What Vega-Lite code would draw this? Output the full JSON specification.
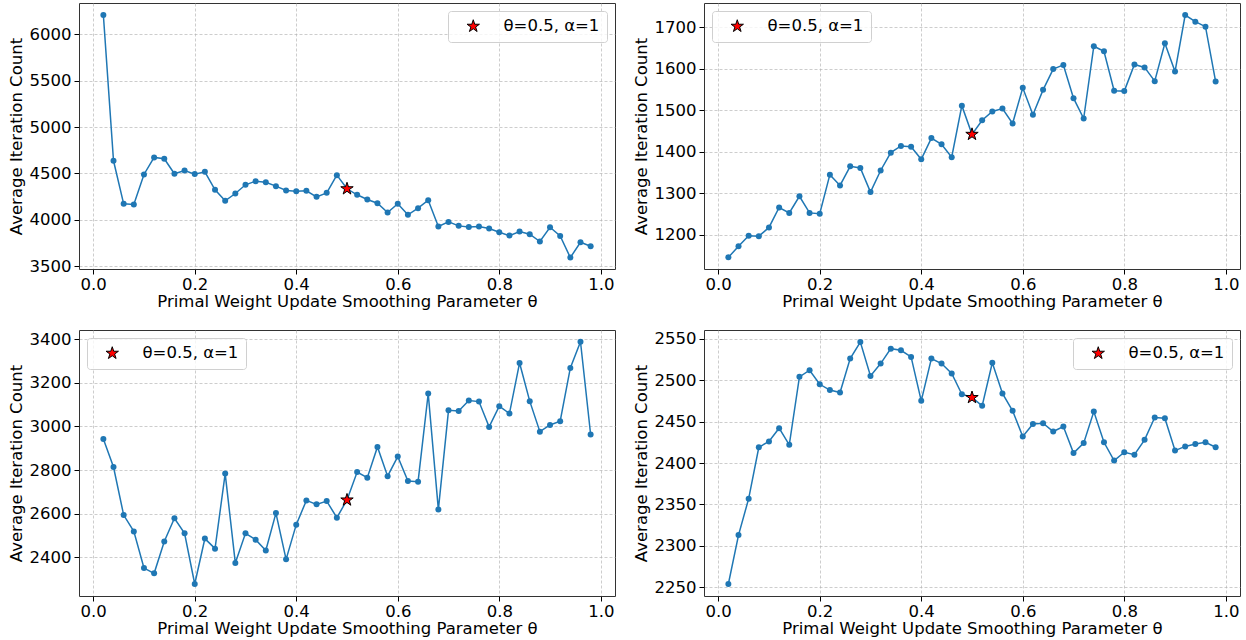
{
  "$schema": "https://vega.github.io/schema/vega-lite/v6.json",
  "background": "white",
  "padding": {"left": 7, "top": 2, "right": 5, "bottom": 5},
  "bounds": "flush",
  "columns": 2,
  "spacing": {"row": 61, "column": 89},
  "datasets": {
    "p1": [
      {"theta":0.02,"count":6208},{"theta":0.04,"count":4637},{"theta":0.06,"count":4173},{"theta":0.08,"count":4165},{"theta":0.10,"count":4489},{"theta":0.12,"count":4673},{"theta":0.14,"count":4659},{"theta":0.16,"count":4497},{"theta":0.18,"count":4532},{"theta":0.20,"count":4493},{"theta":0.22,"count":4518},{"theta":0.24,"count":4324},{"theta":0.26,"count":4205},{"theta":0.28,"count":4284},{"theta":0.30,"count":4378},{"theta":0.32,"count":4417},{"theta":0.34,"count":4406},{"theta":0.36,"count":4363},{"theta":0.38,"count":4317},{"theta":0.40,"count":4309},{"theta":0.42,"count":4313},{"theta":0.44,"count":4248},{"theta":0.46,"count":4291},{"theta":0.48,"count":4482},{"theta":0.50,"count":4335},{"theta":0.52,"count":4270},{"theta":0.54,"count":4219},{"theta":0.56,"count":4179},{"theta":0.58,"count":4079},{"theta":0.60,"count":4173},{"theta":0.62,"count":4054},{"theta":0.64,"count":4126},{"theta":0.66,"count":4212},{"theta":0.68,"count":3928},{"theta":0.70,"count":3978},{"theta":0.72,"count":3935},{"theta":0.74,"count":3924},{"theta":0.76,"count":3928},{"theta":0.78,"count":3906},{"theta":0.80,"count":3866},{"theta":0.82,"count":3830},{"theta":0.84,"count":3874},{"theta":0.86,"count":3845},{"theta":0.88,"count":3766},{"theta":0.90,"count":3920},{"theta":0.92,"count":3827},{"theta":0.94,"count":3593},{"theta":0.96,"count":3758},{"theta":0.98,"count":3715}
    ],
    "p2": [
      {"theta":0.02,"count":1146},{"theta":0.04,"count":1173},{"theta":0.06,"count":1198},{"theta":0.08,"count":1197},{"theta":0.10,"count":1218},{"theta":0.12,"count":1266},{"theta":0.14,"count":1253},{"theta":0.16,"count":1293},{"theta":0.18,"count":1253},{"theta":0.20,"count":1251},{"theta":0.22,"count":1345},{"theta":0.24,"count":1319},{"theta":0.26,"count":1365},{"theta":0.28,"count":1361},{"theta":0.30,"count":1303},{"theta":0.32,"count":1355},{"theta":0.34,"count":1398},{"theta":0.36,"count":1414},{"theta":0.38,"count":1412},{"theta":0.40,"count":1382},{"theta":0.42,"count":1433},{"theta":0.44,"count":1418},{"theta":0.46,"count":1387},{"theta":0.48,"count":1511},{"theta":0.50,"count":1442},{"theta":0.52,"count":1476},{"theta":0.54,"count":1497},{"theta":0.56,"count":1504},{"theta":0.58,"count":1468},{"theta":0.60,"count":1554},{"theta":0.62,"count":1489},{"theta":0.64,"count":1549},{"theta":0.66,"count":1599},{"theta":0.68,"count":1609},{"theta":0.70,"count":1529},{"theta":0.72,"count":1480},{"theta":0.74,"count":1654},{"theta":0.76,"count":1642},{"theta":0.78,"count":1547},{"theta":0.80,"count":1546},{"theta":0.82,"count":1610},{"theta":0.84,"count":1603},{"theta":0.86,"count":1570},{"theta":0.88,"count":1661},{"theta":0.90,"count":1593},{"theta":0.92,"count":1729},{"theta":0.94,"count":1713},{"theta":0.96,"count":1701},{"theta":0.98,"count":1569}
    ],
    "p3": [
      {"theta":0.02,"count":2943},{"theta":0.04,"count":2814},{"theta":0.06,"count":2594},{"theta":0.08,"count":2519},{"theta":0.10,"count":2351},{"theta":0.12,"count":2327},{"theta":0.14,"count":2473},{"theta":0.16,"count":2579},{"theta":0.18,"count":2510},{"theta":0.20,"count":2278},{"theta":0.22,"count":2486},{"theta":0.24,"count":2440},{"theta":0.26,"count":2784},{"theta":0.28,"count":2374},{"theta":0.30,"count":2510},{"theta":0.32,"count":2481},{"theta":0.34,"count":2432},{"theta":0.36,"count":2603},{"theta":0.38,"count":2391},{"theta":0.40,"count":2550},{"theta":0.42,"count":2661},{"theta":0.44,"count":2643},{"theta":0.46,"count":2658},{"theta":0.48,"count":2582},{"theta":0.50,"count":2663},{"theta":0.52,"count":2791},{"theta":0.54,"count":2765},{"theta":0.56,"count":2906},{"theta":0.58,"count":2772},{"theta":0.60,"count":2862},{"theta":0.62,"count":2750},{"theta":0.64,"count":2747},{"theta":0.66,"count":3151},{"theta":0.68,"count":2619},{"theta":0.70,"count":3074},{"theta":0.72,"count":3071},{"theta":0.74,"count":3119},{"theta":0.76,"count":3114},{"theta":0.78,"count":2998},{"theta":0.80,"count":3093},{"theta":0.82,"count":3059},{"theta":0.84,"count":3291},{"theta":0.86,"count":3116},{"theta":0.88,"count":2976},{"theta":0.90,"count":3007},{"theta":0.92,"count":3024},{"theta":0.94,"count":3268},{"theta":0.96,"count":3388},{"theta":0.98,"count":2963}
    ],
    "p4": [
      {"theta":0.02,"count":2254},{"theta":0.04,"count":2313},{"theta":0.06,"count":2357},{"theta":0.08,"count":2419},{"theta":0.10,"count":2426},{"theta":0.12,"count":2442},{"theta":0.14,"count":2422},{"theta":0.16,"count":2504},{"theta":0.18,"count":2512},{"theta":0.20,"count":2495},{"theta":0.22,"count":2488},{"theta":0.24,"count":2485},{"theta":0.26,"count":2526},{"theta":0.28,"count":2546},{"theta":0.30,"count":2505},{"theta":0.32,"count":2520},{"theta":0.34,"count":2538},{"theta":0.36,"count":2536},{"theta":0.38,"count":2528},{"theta":0.40,"count":2475},{"theta":0.42,"count":2526},{"theta":0.44,"count":2520},{"theta":0.46,"count":2508},{"theta":0.48,"count":2483},{"theta":0.50,"count":2479},{"theta":0.52,"count":2469},{"theta":0.54,"count":2521},{"theta":0.56,"count":2484},{"theta":0.58,"count":2463},{"theta":0.60,"count":2432},{"theta":0.62,"count":2447},{"theta":0.64,"count":2448},{"theta":0.66,"count":2438},{"theta":0.68,"count":2444},{"theta":0.70,"count":2412},{"theta":0.72,"count":2424},{"theta":0.74,"count":2462},{"theta":0.76,"count":2425},{"theta":0.78,"count":2403},{"theta":0.80,"count":2413},{"theta":0.82,"count":2410},{"theta":0.84,"count":2428},{"theta":0.86,"count":2455},{"theta":0.88,"count":2454},{"theta":0.90,"count":2415},{"theta":0.92,"count":2420},{"theta":0.94,"count":2423},{"theta":0.96,"count":2425},{"theta":0.98,"count":2419}
    ]
  },
  "concat": [
    {
      "width": 536, "height": 266,
      "data": {"name": "p1"},
      "layer": [
        {"mark": {"type": "line", "color": "#1f77b4", "strokeWidth": 1.5, "point": {"filled": true, "size": 36, "color": "#1f77b4", "opacity": 1}},
         "encoding": {
           "x": {"field": "theta", "type": "quantitative", "scale": {"domain": [-0.028, 1.028], "nice": false, "zero": false}, "axis": {"values": [0, 0.2, 0.4, 0.6, 0.8, 1.0], "format": ".1f", "title": "Primal Weight Update Smoothing Parameter θ"}},
           "y": {"field": "count", "type": "quantitative", "scale": {"domain": [3470, 6338], "nice": false, "zero": false}, "axis": {"values": [3500, 4000, 4500, 5000, 5500, 6000], "format": "d", "title": "Average Iteration Count"}}
         }},
        {"transform": [{"filter": "datum.theta == 0.5"}],
         "mark": {"type": "point", "shape": "M0,-1L0.225,-0.309L0.951,-0.309L0.363,0.118L0.588,0.809L0,0.382L-0.588,0.809L-0.363,0.118L-0.951,-0.309L-0.225,-0.309Z", "filled": true, "stroke": "black", "strokeWidth": 1, "size": 170, "opacity": 1},
         "encoding": {
           "x": {"field": "theta", "type": "quantitative"},
           "y": {"field": "count", "type": "quantitative"},
           "fill": {"datum": "θ=0.5, α=1", "type": "nominal", "scale": {"range": ["#ff0000"]}, "legend": {"orient": "top-right", "title": null, "symbolStrokeColor": "black", "symbolStrokeWidth": 1}}
         }}
      ]
    },
    {
      "width": 536, "height": 266,
      "data": {"name": "p2"},
      "layer": [
        {"mark": {"type": "line", "color": "#1f77b4", "strokeWidth": 1.5, "point": {"filled": true, "size": 36, "color": "#1f77b4", "opacity": 1}},
         "encoding": {
           "x": {"field": "theta", "type": "quantitative", "scale": {"domain": [-0.028, 1.028], "nice": false, "zero": false}, "axis": {"values": [0, 0.2, 0.4, 0.6, 0.8, 1.0], "format": ".1f", "title": "Primal Weight Update Smoothing Parameter θ"}},
           "y": {"field": "count", "type": "quantitative", "scale": {"domain": [1118, 1758], "nice": false, "zero": false}, "axis": {"values": [1200, 1300, 1400, 1500, 1600, 1700], "format": "d", "title": "Average Iteration Count"}}
         }},
        {"transform": [{"filter": "datum.theta == 0.5"}],
         "mark": {"type": "point", "shape": "M0,-1L0.225,-0.309L0.951,-0.309L0.363,0.118L0.588,0.809L0,0.382L-0.588,0.809L-0.363,0.118L-0.951,-0.309L-0.225,-0.309Z", "filled": true, "stroke": "black", "strokeWidth": 1, "size": 170, "opacity": 1},
         "encoding": {
           "x": {"field": "theta", "type": "quantitative"},
           "y": {"field": "count", "type": "quantitative"},
           "fill": {"datum": "θ=0.5, α=1", "type": "nominal", "scale": {"range": ["#ff0000"]}, "legend": {"orient": "top-left", "title": null, "symbolStrokeColor": "black", "symbolStrokeWidth": 1}}
         }}
      ]
    },
    {
      "width": 536, "height": 266,
      "data": {"name": "p3"},
      "layer": [
        {"mark": {"type": "line", "color": "#1f77b4", "strokeWidth": 1.5, "point": {"filled": true, "size": 36, "color": "#1f77b4", "opacity": 1}},
         "encoding": {
           "x": {"field": "theta", "type": "quantitative", "scale": {"domain": [-0.028, 1.028], "nice": false, "zero": false}, "axis": {"values": [0, 0.2, 0.4, 0.6, 0.8, 1.0], "format": ".1f", "title": "Primal Weight Update Smoothing Parameter θ"}},
           "y": {"field": "count", "type": "quantitative", "scale": {"domain": [2223, 3442], "nice": false, "zero": false}, "axis": {"values": [2400, 2600, 2800, 3000, 3200, 3400], "format": "d", "title": "Average Iteration Count"}}
         }},
        {"transform": [{"filter": "datum.theta == 0.5"}],
         "mark": {"type": "point", "shape": "M0,-1L0.225,-0.309L0.951,-0.309L0.363,0.118L0.588,0.809L0,0.382L-0.588,0.809L-0.363,0.118L-0.951,-0.309L-0.225,-0.309Z", "filled": true, "stroke": "black", "strokeWidth": 1, "size": 170, "opacity": 1},
         "encoding": {
           "x": {"field": "theta", "type": "quantitative"},
           "y": {"field": "count", "type": "quantitative"},
           "fill": {"datum": "θ=0.5, α=1", "type": "nominal", "scale": {"range": ["#ff0000"]}, "legend": {"orient": "top-left", "title": null, "symbolStrokeColor": "black", "symbolStrokeWidth": 1}}
         }}
      ]
    },
    {
      "width": 536, "height": 266,
      "data": {"name": "p4"},
      "layer": [
        {"mark": {"type": "line", "color": "#1f77b4", "strokeWidth": 1.5, "point": {"filled": true, "size": 36, "color": "#1f77b4", "opacity": 1}},
         "encoding": {
           "x": {"field": "theta", "type": "quantitative", "scale": {"domain": [-0.028, 1.028], "nice": false, "zero": false}, "axis": {"values": [0, 0.2, 0.4, 0.6, 0.8, 1.0], "format": ".1f", "title": "Primal Weight Update Smoothing Parameter θ"}},
           "y": {"field": "count", "type": "quantitative", "scale": {"domain": [2239.5, 2560.5], "nice": false, "zero": false}, "axis": {"values": [2250, 2300, 2350, 2400, 2450, 2500, 2550], "format": "d", "title": "Average Iteration Count"}}
         }},
        {"transform": [{"filter": "datum.theta == 0.5"}],
         "mark": {"type": "point", "shape": "M0,-1L0.225,-0.309L0.951,-0.309L0.363,0.118L0.588,0.809L0,0.382L-0.588,0.809L-0.363,0.118L-0.951,-0.309L-0.225,-0.309Z", "filled": true, "stroke": "black", "strokeWidth": 1, "size": 170, "opacity": 1},
         "encoding": {
           "x": {"field": "theta", "type": "quantitative"},
           "y": {"field": "count", "type": "quantitative"},
           "fill": {"datum": "θ=0.5, α=1", "type": "nominal", "scale": {"range": ["#ff0000"]}, "legend": {"orient": "top-right", "title": null, "symbolStrokeColor": "black", "symbolStrokeWidth": 1}}
         }}
      ]
    }
  ],
  "resolve": {"scale": {"fill": "independent"}, "legend": {"fill": "independent"}},
  "config": {
    "font": "DejaVu Sans",
    "view": {"stroke": "#333333", "strokeWidth": 1},
    "axis": {
      "labelFont": "DejaVu Sans", "labelFontSize": 16.5, "labelColor": "#000000",
      "titleFont": "DejaVu Sans", "titleFontSize": 16.5, "titleFontWeight": "normal", "titleColor": "#000000",
      "domain": false, "tickColor": "#000000", "tickSize": 5, "tickWidth": 1,
      "gridColor": "#b0b0b0", "gridDash": [3, 2], "gridWidth": 0.8, "gridOpacity": 0.8,
      "labelPadding": 3, "labelFlush": false, "labelOverlap": false, "labelBound": false
    },
    "axisX": {"titlePadding": 1, "labelPadding": 2},
    "axisY": {"titlePadding": 5},
    "legend": {
      "labelFont": "DejaVu Sans", "labelFontSize": 16.5, "labelColor": "#000000",
      "padding": 7, "strokeColor": "#d0d0d0", "fillColor": "rgba(255,255,255,0.8)", "cornerRadius": 3,
      "symbolSize": 170, "symbolType": "M0,-1L0.225,-0.309L0.951,-0.309L0.363,0.118L0.588,0.809L0,0.382L-0.588,0.809L-0.363,0.118L-0.951,-0.309L-0.225,-0.309Z",
      "symbolStrokeColor": "black", "symbolStrokeWidth": 1, "symbolOffset": 10, "labelOffset": 22, "offset": 8
    }
  }
}
